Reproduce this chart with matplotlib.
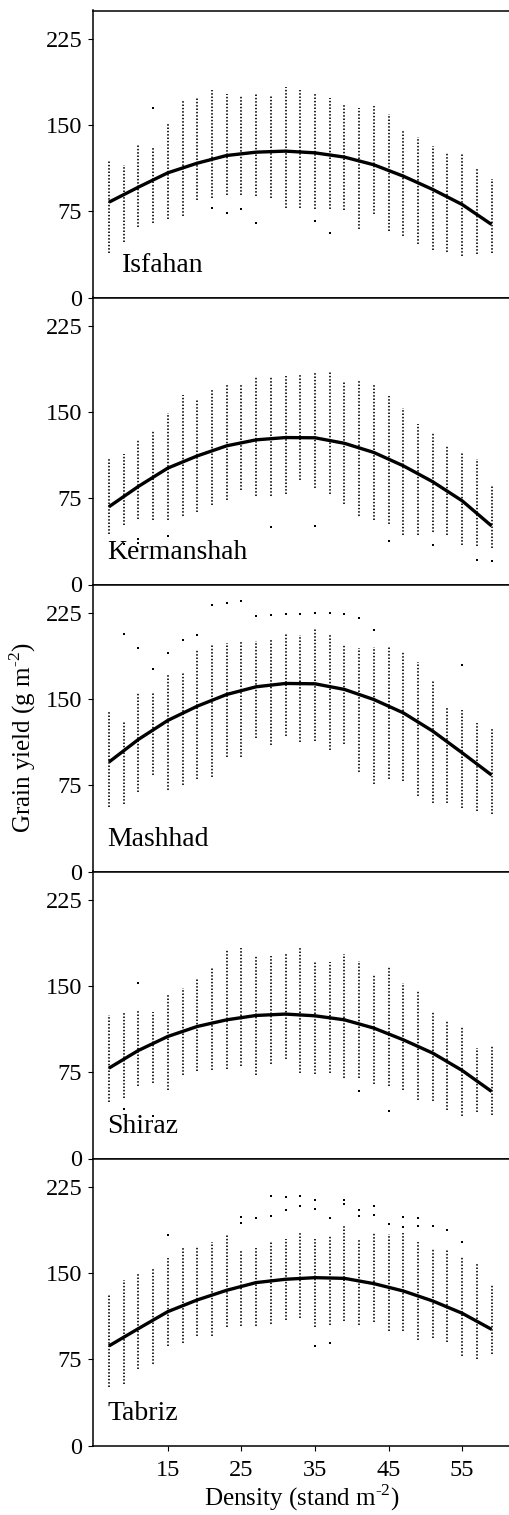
import numpy as np
import matplotlib
matplotlib.use("Agg")
import matplotlib.pyplot as plt

plt.rcParams['font.family'] = ['Liberation Serif', 'DejaVu Serif']
plt.rcParams['mathtext.fontset'] = 'custom'
plt.rcParams['mathtext.rm'] = 'Liberation Serif'

# planting densities (one column of dots per density)
density = [7, 9, 11, 13, 15, 17, 19, 21, 23, 25, 27, 29, 31, 33,
           35, 37, 39, 41, 43, 45, 47, 49, 51, 53, 55, 57, 59]
# densities where the fitted curve was read
fit_density = [7, 11, 15, 19, 23, 27, 31, 35, 39, 43, 47, 51, 55, 59]

sites = ["Isfahan", "Kermanshah", "Mashhad", "Shiraz", "Tabriz"]

# --- Isfahan
isfahan_lo = [39, 48, 61, 65, 68, 71, 84.5, 87, 89, 89, 88, 87, 78, 78,
              77, 77, 76, 60, 73, 57.5, 53.5, 47, 41.5, 40, 36, 38, 39]
isfahan_hi = [118.5, 115.6, 133, 130, 152, 172, 174.5, 181, 177, 176.5, 178, 176.5, 183, 181,
              177, 173.6, 168, 165, 166.7, 160, 144.6, 140, 132, 127, 125.7, 112, 103.4]
isfahan_out_x = [13, 21, 23, 25, 27, 35, 37]
isfahan_out_y = [165, 78, 73.5, 77, 65, 66.5, 56]
isfahan_fit = [83, 96.1, 108.6, 117, 123.7, 126.6, 127.5, 126, 122.3, 115.6, 105.7, 94.1, 81, 63.6]

# --- Kermanshah
kermanshah_lo = [44, 52, 57, 56, 56, 60, 63, 69, 74, 82.5, 77, 77, 79, 91,
                 84, 79, 70, 60, 56, 52.6, 43, 43, 45.6, 43, 34.6, 33.7, 31.7]
kermanshah_hi = [110, 113.6, 125.8, 135, 149, 165, 160.6, 169, 174, 174.5, 181, 181.8, 182, 183,
                 183.8, 184.7, 176.6, 178, 174, 164, 153.6, 140, 131.6, 121, 115.6, 109, 86]
kermanshah_out_x = [9, 11, 11, 15, 29, 35, 45, 51, 57, 59]
kermanshah_out_y = [35, 40, 36, 42.5, 50, 51, 38, 34.6, 21.5, 20.7]
kermanshah_fit = [67.7, 85.4, 101.4, 112, 120.8, 126, 128, 127.8, 123, 115, 103.4, 89.5, 72.9, 51]

# --- Mashhad
mashhad_lo = [56, 59, 69, 84, 71, 75, 81, 82, 100, 100, 116, 110, 118, 113,
              114, 106, 111, 87, 76, 81, 79, 66, 60, 60, 55, 53, 50]
mashhad_hi = [139, 130, 156.5, 156.5, 171, 173, 193, 197, 199, 200.6, 200.6, 202, 206.5, 206,
              212, 206.5, 198.6, 194.8, 195.7, 195.7, 191, 182.4, 166.7, 143.5, 141, 129, 124.3]
mashhad_out_x = [9, 11, 13, 15, 17, 19, 21, 23, 25, 27, 29, 31, 33, 35, 37, 39, 41, 43, 55]
mashhad_out_y = [206.5, 194.8, 176.6, 190, 201.5, 205.6, 232, 233.5, 235.5, 222.4, 223.6,
                 224.5, 224.5, 225.3, 225.3, 223.9, 220.4, 210.2, 179.7]
mashhad_fit = [95.3, 115, 131.6, 144, 154.2, 160.9, 163.8, 163.5, 158.6, 149.8, 138.2, 122.3, 103.4, 84]

# --- Shiraz
shiraz_lo = [49, 52.6, 62.8, 65.7, 59.3, 72.9, 75.8, 76.7, 77.8, 80.8, 72.9, 82.2, 86.6, 74.4,
             73.5, 74.4, 70, 70, 65.1, 62.8, 59.9, 50.6, 50.3, 42.1, 37.2, 40.4, 38.1]
shiraz_hi = [124.6, 126.6, 128.7, 128, 142.6, 148.4, 157, 166.4, 182.6, 183.2, 176.6, 176.8, 178.3, 184.1,
             171, 171.6, 178.3, 172.2, 160.6, 166.7, 152.7, 146.4, 127.2, 120.2, 115, 96.1, 97.6]
shiraz_out_x = [9, 11, 13, 41, 45]
shiraz_out_y = [43, 152.7, 36.6, 58.4, 41]
shiraz_fit = [78.7, 94.1, 106.3, 115, 120.8, 124.6, 125.8, 124.3, 120.8, 113.6, 103.4, 91.8, 76.7, 58.4]

# --- Tabriz
tabriz_lo = [51, 54, 67, 71, 87, 89, 95, 95, 103, 104, 104, 106, 109, 111,
             103, 105, 108.5, 105, 108, 100, 100, 92, 94, 90, 78, 75, 80]
tabriz_hi = [131, 144, 149, 154, 163, 172, 174, 177, 183, 170, 172, 178, 180, 186,
             180, 183, 192, 180, 185, 184, 185, 177, 172, 171, 165, 158, 140]
tabriz_out_x = [15, 25, 25, 27, 29, 29, 31, 31, 33, 33, 35, 35, 37, 39, 39, 41, 41,
                43, 43, 45, 47, 47, 49, 49, 51, 53, 55, 35, 37]
tabriz_out_y = [183, 199, 194, 198, 217, 200, 216.5, 205, 217, 209, 214, 206, 198, 214, 210, 205, 200,
                209, 201, 193, 199, 190, 198, 191, 191, 188, 177, 86.7, 89.6]
tabriz_fit = [86.7, 101.8, 116.6, 126.8, 135.2, 141.9, 144.8, 146.2, 145.6, 141, 134.6, 125.9, 115.2, 101.2]

panels = [
    (isfahan_lo, isfahan_hi, isfahan_out_x, isfahan_out_y, isfahan_fit),
    (kermanshah_lo, kermanshah_hi, kermanshah_out_x, kermanshah_out_y, kermanshah_fit),
    (mashhad_lo, mashhad_hi, mashhad_out_x, mashhad_out_y, mashhad_fit),
    (shiraz_lo, shiraz_hi, shiraz_out_x, shiraz_out_y, shiraz_fit),
    (tabriz_lo, tabriz_hi, tabriz_out_x, tabriz_out_y, tabriz_fit),
]

fig = plt.figure(figsize=(5.1, 15.15), dpi=100)
left, width = 0.1818, 0.8182
h = 287 / 1515
bottom0 = 1 - 1445.5 / 1515

axes = []
for i, (site, (lo, hi, ox, oy, fit)) in enumerate(zip(sites, panels)):
    b = bottom0 + (4 - i) * h
    ax = fig.add_axes([left, b, width, h])
    axes.append(ax)

    # each density column of dots drawn as a dotted stripe
    ax.vlines(density, lo, hi, colors='black', linewidth=1.2,
              linestyles=(0, (0.9, 1.1)))
    ax.plot(ox, oy, 's', ms=1.7, mew=0, color='black')
    ax.plot(fit_density, fit, color='black', lw=2.4, solid_capstyle='butt')

    ax.set_xlim(4.8, 61.5)
    ax.set_ylim(0, 250)
    ax.set_yticks([0, 75, 150, 225])
    ax.set_xticks([15, 25, 35, 45, 55])
    ax.spines['right'].set_visible(False)
    for s in ['left', 'top', 'bottom']:
        ax.spines[s].set_linewidth(1.1)
    ax.tick_params(direction='out', length=3.6, width=0.8, labelsize=17.5, pad=4)
    if i < 4:
        ax.tick_params(axis='x', labelbottom=False)
    else:
        ax.tick_params(axis='x', pad=7)
    ax.text(0.035 if i > 0 else 0.07, 0.09, site, transform=ax.transAxes,
            fontsize=20, ha='left', va='baseline')

axes[-1].set_xlabel(r'Density (stand m$^{\text{-2}}$)', fontsize=18, labelpad=1)
fig.text(0.045, 1 - 738 / 1515, r'Grain yield (g m$^{\text{-2}}$)',
         rotation=90, fontsize=18, ha='center', va='center')

fig.savefig('out.png', dpi=100, facecolor='white')
